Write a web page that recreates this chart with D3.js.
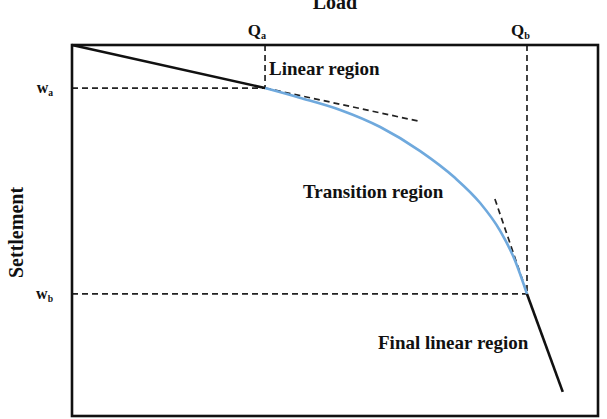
<!DOCTYPE html>
<html>
<head>
<meta charset="utf-8">
<script src="https://d3js.org/d3.v7.min.js"></script>
<style>
  body { margin: 0; background: #fff; }
  text { font-family: "Liberation Serif", "Times New Roman", serif; font-weight: bold; fill: #111; }
</style>
</head>
<body>
<svg id="chart" width="607" height="419"></svg>
<script>
// load / settlement values (arbitrary units 0-100)
const linearLoad = [0, 36.7];
const linearSettle = [0, 11.6];
const transitionLoad = [36.7, 43.3, 51.0, 58.6, 66.2, 72.8, 77.6, 81.4, 84.2, 86.5];
const transitionSettle = [11.6, 14.2, 17.5, 22.1, 28.6, 35.8, 42.6, 50.1, 58.0, 67.1];
const finalLoad = [86.5, 93.3];
const finalSettle = [67.1, 93.5];
const tangentALoad = [36.7, 65.8];
const tangentASettle = [11.6, 20.5];
const tangentBLoad = [80.4, 86.1];
const tangentBSettle = [41.5, 65.2];
const Qa = 36.7, Qb = 86.5, wa = 11.6, wb = 67.1;

const svg = d3.select("#chart");

var x = d3.scaleLinear().domain([0, 100]).range([72, 598]);
var y = d3.scaleLinear().domain([0, 100]).range([45, 416]);

const pts = (xs, ys) => xs.map((v, i) => [v, ys[i]]);
const line = d3.line().x(d => x(d[0])).y(d => y(d[1]));

// guide lines
function dashed(x1, y1, x2, y2) {
  svg.append("line")
    .attr("x1", x(x1)).attr("y1", y(y1))
    .attr("x2", x(x2)).attr("y2", y(y2))
    .attr("stroke", "#222")
    .attr("stroke-width", 1.7)
    .attr("stroke-dasharray", "6,4");
}
dashed(Qa, 0, Qa, wa);
dashed(Qb, 0, Qb, wb);
dashed(0, wa, Qa, wa);
dashed(0, wb, Qb, wb);
dashed(tangentALoad[0], tangentASettle[0], tangentALoad[1], tangentASettle[1]);
dashed(tangentBLoad[0], tangentBSettle[0], tangentBLoad[1], tangentBSettle[1]);

// curve
svg.append("path")
  .datum(pts(transitionLoad, transitionSettle))
  .attr("d", line.curve(d3.curveMonotoneX))
  .attr("fill", "none")
  .attr("stroke", "#6fa9dd")
  .attr("stroke-width", 2.6);

line.curve(d3.curveLinear);
[pts(linearLoad, linearSettle), pts(finalLoad, finalSettle)].forEach(seg => {
  svg.append("path")
    .datum(seg)
    .attr("d", line)
    .attr("fill", "none")
    .attr("stroke", "#111")
    .attr("stroke-width", 2.6);
});

// frame
svg.append("rect")
  .attr("x", x(0)).attr("y", y(0))
  .attr("width", x(100) - x(0)).attr("height", y(100) - y(0))
  .attr("fill", "none")
  .attr("stroke", "#111")
  .attr("stroke-width", 2.6);

// labels
svg.append("text").attr("x", 335).attr("y", 9)
  .attr("text-anchor", "middle").style("font-size", "20px").text("Load");

svg.append("text")
  .attr("transform", "translate(23," + ((y(0) + y(100)) / 2 + 2) + ") rotate(-90)")
  .attr("text-anchor", "middle").style("font-size", "20px").text("Settlement");

function sub(tx, ty, main, s, anchor, size) {
  const t = svg.append("text").attr("x", tx).attr("y", ty)
    .attr("text-anchor", anchor).style("font-size", size + "px");
  t.append("tspan").text(main);
  t.append("tspan").attr("dy", 3).style("font-size", (size * 0.6) + "px").text(s);
}
sub(x(Qa) + 1, 36, "Q", "a", "end", 17);
sub(x(Qb) + 3, 36, "Q", "b", "end", 17);
sub(53, y(wa) + 5, "w", "a", "end", 16);
sub(53, y(wb) + 5, "w", "b", "end", 16);

svg.append("text").attr("x", 269).attr("y", 75)
  .style("font-size", "19px").text("Linear region");
svg.append("text").attr("x", 303).attr("y", 198)
  .style("font-size", "19px").text("Transition region");
svg.append("text").attr("x", 378).attr("y", 349)
  .style("font-size", "19px").text("Final linear region");
</script>
</body>
</html>
